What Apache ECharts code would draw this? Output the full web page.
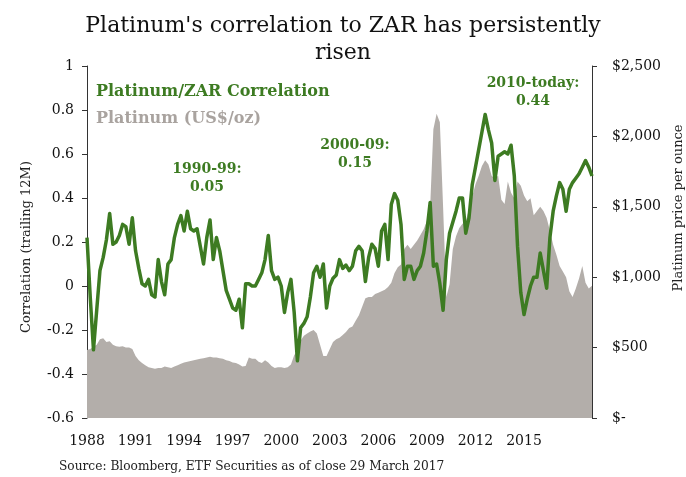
<!DOCTYPE html>
<html>
<head>
<meta charset="utf-8">
<script src="https://cdn.jsdelivr.net/npm/echarts@6/dist/echarts.min.js"></script>
<style>
html,body{margin:0;padding:0;background:#fff;}
#chart{width:686px;height:477px;}
</style>
</head>
<body>
<div id="chart"></div>
<script>
// ---- data ----
var xTickLabels = ['1988','1991','1994','1997','2000','2003','2006','2009','2012','2015'];
var pointsPerLabel = 15;

var correlation = [
 0.22,-0.05,-0.29,-0.11,0.07,0.13,0.21,0.33,0.19,0.20,
 0.23,0.28,0.27,0.19,0.31,0.16,0.08,0.01,0.00,0.03,
 -0.04,-0.05,0.12,0.02,-0.04,0.10,0.12,0.22,0.28,0.32,
 0.25,0.34,0.26,0.25,0.26,0.18,0.10,0.22,0.30,0.12,
 0.22,0.16,0.07,-0.02,-0.06,-0.10,-0.11,-0.06,-0.19,0.01,
 0.01,0.00,0.00,0.03,0.06,0.12,0.23,0.07,0.03,0.04,
 0.00,-0.12,-0.03,0.03,-0.12,-0.34,-0.19,-0.17,-0.14,-0.05,
 0.06,0.09,0.04,0.10,-0.10,0.00,0.035,0.05,0.12,0.08,
 0.095,0.07,0.09,0.16,0.18,0.16,0.02,0.13,0.19,0.17,
 0.09,0.25,0.28,0.12,0.37,0.42,0.39,0.28,0.03,0.09,
 0.09,0.03,0.07,0.09,0.15,0.25,0.38,0.09,0.10,0.01,
 -0.11,0.12,0.24,0.29,0.34,0.40,0.40,0.24,0.31,0.46,
 0.54,0.62,0.70,0.78,0.71,0.65,0.48,0.59,0.60,0.61,
 0.60,0.64,0.50,0.18,-0.03,-0.13,-0.06,0.00,0.04,0.04,
 0.15,0.07,-0.01,0.22,0.34,0.41,0.47,0.44,0.34,0.44,
 0.47,0.49,0.51,0.54,0.57,0.54,0.50
];

var platinumPrice = [
 483,490,506,520,560,566,540,545,520,510,
 506,510,500,500,490,440,410,390,375,360,
 355,350,355,355,365,360,355,365,375,385,
 395,400,405,410,415,420,425,430,435,430,
 430,425,420,410,405,395,390,380,365,370,
 430,420,420,400,390,410,395,370,355,360,
 360,355,360,380,445,480,550,585,600,615,
 625,600,520,440,440,490,540,560,570,590,
 610,640,650,690,730,790,850,860,860,880,
 890,900,910,930,960,1030,1070,1090,1200,1230,
 1200,1230,1260,1300,1340,1400,1500,2050,2160,2100,
 1500,860,950,1200,1290,1350,1380,1400,1480,1570,
 1660,1720,1790,1830,1800,1720,1700,1720,1550,1520,
 1680,1600,1560,1680,1650,1580,1540,1560,1440,1470,
 1500,1470,1420,1330,1230,1160,1080,1040,1000,900,
 860,920,990,1080,960,920,940
];

var annotations = [
  {text: '1990-99:\n0.05', x: 207, y: 178},
  {text: '2000-09:\n0.15', x: 355, y: 154},
  {text: '2010-today:\n0.44', x: 533, y: 92}
];

// ---- build categories from the tick labels ----
var categories = correlation.map(function (v, i) {
  return (i % pointsPerLabel === 0) ? (xTickLabels[i / pointsPerLabel] || '') : '';
});

var GREEN = '#3d7b22';
var GREYTXT = '#a9a39f';
var AREA = '#b3aeaa';
var FONT = 'DejaVu Serif';

var chart = echarts.init(document.getElementById('chart'));
var graphics = annotations.map(function (a) {
  return {
    type: 'text', x: a.x, y: a.y, z: 100,
    style: {text: a.text, fill: GREEN, font: 'bold 14px "' + FONT + '"',
            align: 'center', verticalAlign: 'middle', lineHeight: 18}
  };
});
graphics.push({
  type: 'text', x: 27, y: 247, rotation: Math.PI / 2,
  style: {text: 'Correlation (trailing 12M)', fill: '#222', font: '13px "' + FONT + '"',
          align: 'center', verticalAlign: 'middle'}
});
graphics.push({
  type: 'text', x: 679, y: 208, rotation: Math.PI / 2,
  style: {text: 'Platinum price per ounce', fill: '#222', font: '13px "' + FONT + '"',
          align: 'center', verticalAlign: 'middle'}
});
graphics.push({
  type: 'text', x: 59, y: 467,
  style: {text: 'Source: Bloomberg, ETF Securities as of close 29 March 2017', fill: '#222',
          font: '12.2px "' + FONT + '"', align: 'left', verticalAlign: 'middle'}
});
graphics.push({
  type: 'text', x: 96, y: 92,
  style: {text: 'Platinum/ZAR Correlation', fill: GREEN, font: 'bold 16px "' + FONT + '"',
          align: 'left', verticalAlign: 'middle'}
});
graphics.push({
  type: 'text', x: 96, y: 119,
  style: {text: 'Platinum (US$/oz)', fill: GREYTXT, font: 'bold 16px "' + FONT + '"',
          align: 'left', verticalAlign: 'middle'}
});

chart.setOption({
  animation: false,
  backgroundColor: '#fff',
  title: {
    text: "Platinum's correlation to ZAR has persistently\nrisen",
    left: 'center', top: 8,
    textStyle: {fontFamily: FONT, fontWeight: 'normal', fontSize: 22, lineHeight: 27, color: '#111'}
  },
  grid: {left: 87, right: 94, top: 66, bottom: 59, containLabel: false},
  xAxis: {
    type: 'category', data: categories, boundaryGap: false,
    axisLine: {show: false}, axisTick: {show: false}, splitLine: {show: false},
    axisLabel: {
      interval: function (i) { return i % pointsPerLabel === 0; },
      fontFamily: FONT, fontSize: 14, color: '#111', margin: 16
    }
  },
  yAxis: [{
    type: 'value', min: -0.6, max: 1, interval: 0.2, position: 'left',
    axisLine: {show: true, lineStyle: {color: '#333', width: 1}},
    axisTick: {show: true, length: 5, lineStyle: {color: '#333'}},
    splitLine: {show: false},
    axisLabel: {fontFamily: FONT, fontSize: 14, color: '#111', margin: 13,
      formatter: function (v) { return String(Math.round(v * 10) / 10); }}
  }, {
    type: 'value', min: 0, max: 2500, interval: 500, position: 'right',
    axisLine: {show: true, lineStyle: {color: '#333', width: 1}},
    axisTick: {show: true, length: 5, lineStyle: {color: '#333'}},
    splitLine: {show: false},
    axisLabel: {fontFamily: FONT, fontSize: 14, color: '#111', margin: 20,
      formatter: function (v) { return v === 0 ? '$-' : '$' + v.toLocaleString('en-US'); }}
  }],
  series: [{
    name: 'Platinum (US$/oz)', type: 'line', yAxisIndex: 1, data: platinumPrice,
    symbol: 'none', lineStyle: {width: 0}, areaStyle: {color: AREA, opacity: 1}, z: 1
  }, {
    name: 'Platinum/ZAR Correlation', type: 'line', yAxisIndex: 0, data: correlation,
    symbol: 'none', lineStyle: {width: 3.5, color: GREEN, join: 'round'}, itemStyle: {color: GREEN}, z: 3
  }],
  graphic: graphics
});
</script>
</body>
</html>
